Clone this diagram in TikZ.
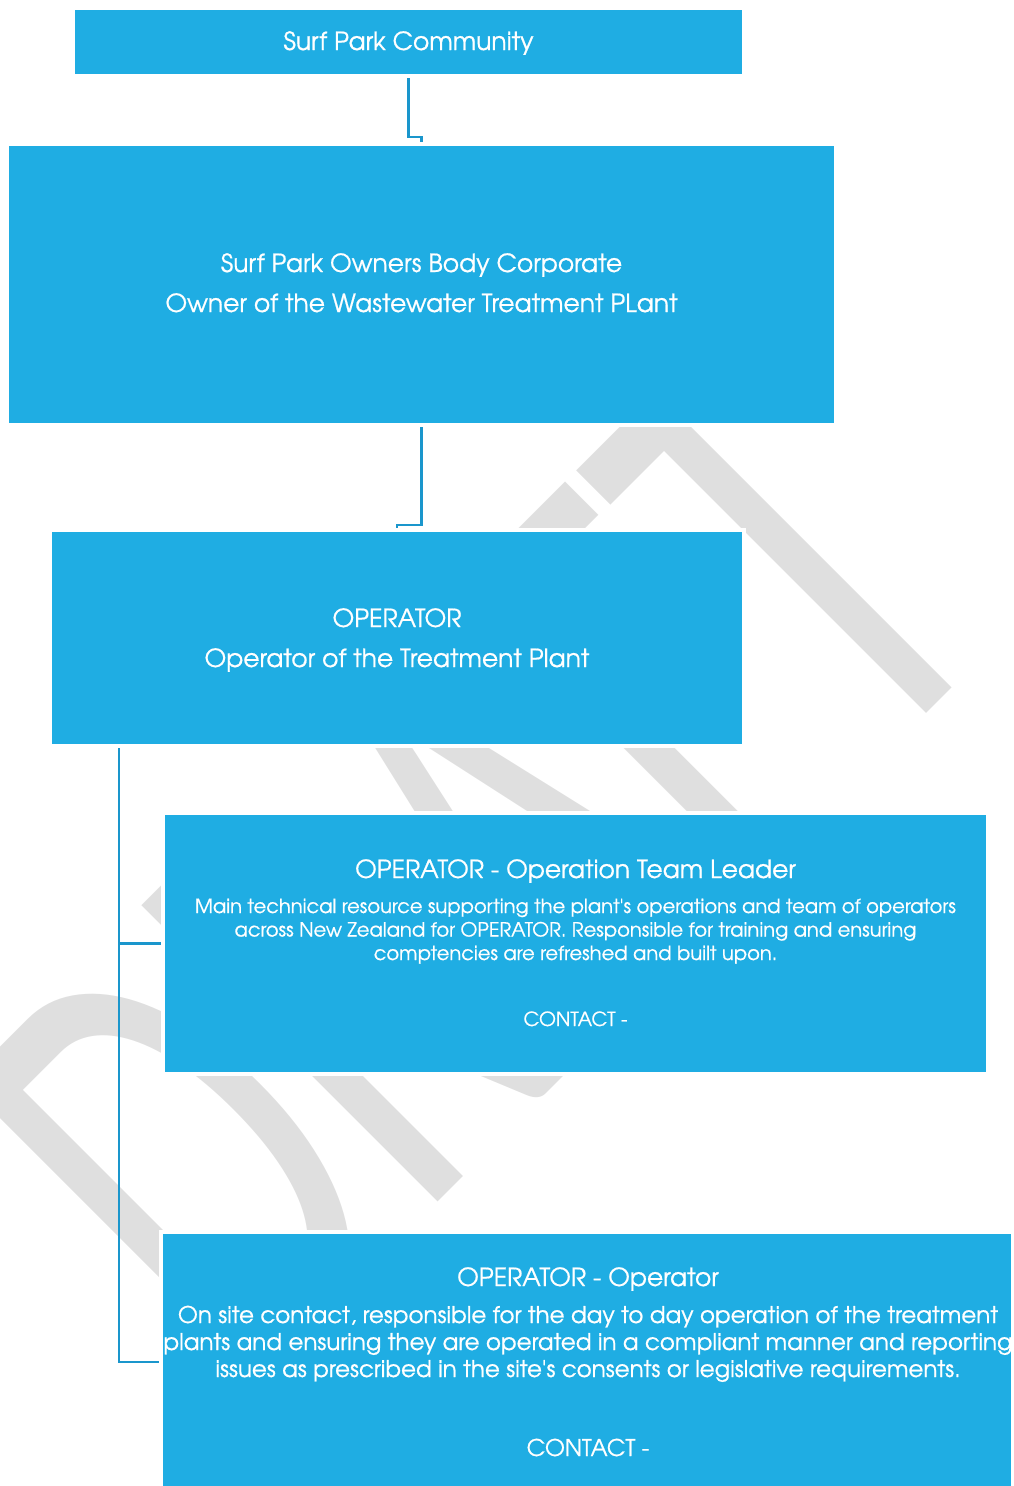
\documentclass[tikz,border=0pt]{standalone}
\usepackage{fontspec}
\usepackage{graphicx}
\newfontfamily\wmfont{Carlito}
\newfontfamily\gothic{texgyreadventor-regular.otf}[RawFeature={embolden=0.7}]
\definecolor{boxblue}{HTML}{1FADE3}
\definecolor{linkblue}{HTML}{1A96CC}
\definecolor{wmgrey}{HTML}{DFDFDF}
\begin{document}
\begin{tikzpicture}[x=1pt,y=-1pt,
  box/.style={fill=boxblue, inner sep=0, outer sep=0, preaction={draw=white, line width=8}},
  conn/.style={draw=linkblue, line width=2.6},
  txt/.style={text=white, inner sep=0, anchor=base},
  tbig/.style={txt, font=\gothic\fontsize{25}{30}\selectfont},
  tsmall/.style={txt, font=\gothic\fontsize{19.5}{23}\selectfont},
  tmid/.style={txt, font=\gothic\fontsize{23}{27}\selectfont}]
\useasboundingbox (0,0) rectangle (1013,1486);
% watermark
\begin{scope}
\clip (0,0) rectangle (1013,1486);
\node[anchor=base west, inner sep=0, rotate=45, text=wmgrey, font=\wmfont\fontsize{653}{653}\selectfont] (wm) at (241,1399) {\scalebox{0.62}[1]{DRAFT}};
\end{scope}
% box positions (empty first for connectors)
\path
  (408.5,42) node[minimum width=667, minimum height=64, inner sep=0, outer sep=0] (b1) {}
  (421.5,284.5) node[minimum width=825, minimum height=277, inner sep=0, outer sep=0] (b2) {}
  (397,638) node[minimum width=690, minimum height=212, inner sep=0, outer sep=0] (b3) {}
  (575.5,943.5) node[minimum width=821, minimum height=257, inner sep=0, outer sep=0] (b4) {}
  (587,1362) node[minimum width=848, minimum height=256, inner sep=0, outer sep=0] (b5) {};
% connectors
\draw[conn] (b1.south) -- ++(0,63) -| (b2.north);
\draw[conn] (b2.south) -- ++(0,102) -| (b3.north);
\coordinate (trunk) at ([xshift=67]b3.south west);
\draw[conn] (trunk) |- (b4.west);
\draw[conn] (trunk) |- (b5.west);
% boxes
\foreach \b in {b1,b2,b3,b4,b5}
  \path[box] (\b.north west) rectangle (\b.south east);
% texts
\node[tbig] (b1t) at (408.5,50) {Surf Park Community};
\node[tbig] (b2t1) at (421.5,272) {Surf Park Owners Body Corporate};
\node[tbig] (b2t2) at (421.5,312) {Owner of the Wastewater Treatment PLant};
\node[tbig] (b3t1) at (397,627) {OPERATOR};
\node[tbig] (b3t2) at (397,667) {Operator of the Treatment Plant};
\node[tbig] (b4t1) at (575.5,878) {OPERATOR - Operation Team Leader};
\node[tsmall] (b4t2) at (575.5,913) {Main technical resource supporting the plant\textquotesingle s operations and team of operators};
\node[tsmall] (b4t3) at (575.5,936.5) {across New Zealand for OPERATOR. Responsible for training and ensuring};
\node[tsmall] (b4t4) at (575.5,960) {comptencies are refreshed and built upon.};
\node[tsmall] (b4t5) at (575.5,1026) {CONTACT -};
\node[tbig] (b5t1) at (588,1286) {OPERATOR - Operator};
\node[tmid] (b5t2) at (588,1323) {On site contact, responsible for the day to day operation of the treatment};
\node[tmid] (b5t3) at (588,1350) {plants and ensuring they are operated in a compliant manner and reporting};
\node[tmid] (b5t4) at (588,1377) {issues as prescribed in the site\textquotesingle s consents or legislative requirements.};
\node[tmid] (b5t5) at (588,1456) {CONTACT -};
\end{tikzpicture}
\end{document}
